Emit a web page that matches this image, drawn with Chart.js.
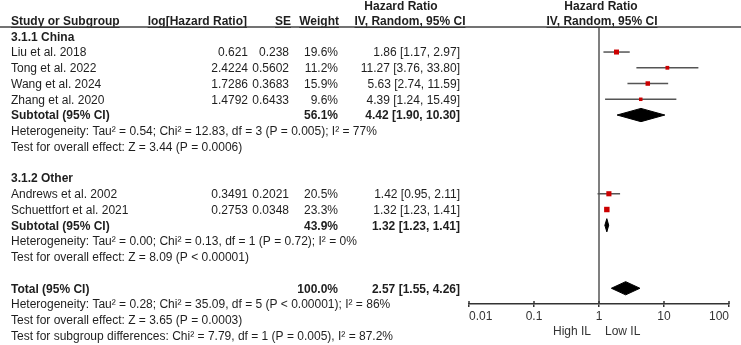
<!DOCTYPE html>
<html lang="en">
  <head>
    <meta charset="UTF-8" />
    <title>Forest plot</title>
    <script src="https://cdn.jsdelivr.net/npm/chart.js"></script>
    <style>
      body { margin: 0; background: #fff; }
      canvas { display: block; }
    </style>
  </head>
  <body>
    <canvas id="forest" width="741" height="345"></canvas>

    <script>
      // data
      const groups = ['3.1.1 China', '3.1.2 Other'];
      const studies = ['Liu et al. 2018', 'Tong et al. 2022', 'Wang et al. 2024', 'Zhang et al. 2020', 'Andrews et al. 2002', 'Schuettfort et al. 2021'];
      const studyGroup = [0, 0, 0, 0, 1, 1];
      const logHR = [0.621, 2.4224, 1.7286, 1.4792, 0.3491, 0.2753];
      const se = [0.238, 0.5602, 0.3683, 0.6433, 0.2021, 0.0348];
      const weights = [19.6, 11.2, 15.9, 9.6, 20.5, 23.3];
      const hr = [1.86, 11.27, 5.63, 4.39, 1.42, 1.32];
      const ciLow = [1.17, 3.76, 2.74, 1.24, 0.95, 1.23];
      const ciHigh = [2.97, 33.80, 11.59, 15.49, 2.11, 1.41];

      const subWeight = [56.1, 43.9];
      const subHR = [4.42, 1.32];
      const subLow = [1.90, 1.23];
      const subHigh = [10.30, 1.41];
      const subHet = [
        'Heterogeneity: Tau² = 0.54; Chi² = 12.83, df = 3 (P = 0.005); I² = 77%',
        'Heterogeneity: Tau² = 0.00; Chi² = 0.13, df = 1 (P = 0.72); I² = 0%'
      ];
      const subEffect = [
        'Test for overall effect: Z = 3.44 (P = 0.0006)',
        'Test for overall effect: Z = 8.09 (P < 0.00001)'
      ];

      const totalHR = [2.57];
      const totalLow = [1.55];
      const totalHigh = [4.26];
      const totalNotes = [
        'Heterogeneity: Tau² = 0.28; Chi² = 35.09, df = 5 (P < 0.00001); I² = 86%',
        'Test for overall effect: Z = 3.65 (P = 0.0003)',
        'Test for subgroup differences: Chi² = 7.79, df = 1 (P = 0.005), I² = 87.2%'
      ];

      const xTicks = [0.01, 0.1, 1, 10, 100];
      const favourLabels = ['High IL', 'Low IL'];

      // rows of the table (index = line number)
      const rows = [];
      let r = 0;
      const studyRow = [];
      const subRow = [];
      groups.forEach(function (g, gi) {
        rows.push({ row: r++, kind: 'group', text: g });
        studies.forEach(function (s, i) {
          if (studyGroup[i] !== gi) return;
          studyRow[i] = r;
          rows.push({ row: r++, kind: 'study', i: i });
        });
        subRow[gi] = r;
        rows.push({ row: r++, kind: 'sub', gi: gi });
        rows.push({ row: r++, kind: 'note', text: subHet[gi] });
        rows.push({ row: r++, kind: 'note', text: subEffect[gi] });
        r++;
      });
      const totalRow = r;
      rows.push({ row: r++, kind: 'total' });
      totalNotes.forEach(function (t) { rows.push({ row: r++, kind: 'note', text: t }); });

      const fmtCI = function (m, lo, hi) {
        return m.toFixed(2) + ' [' + lo.toFixed(2) + ', ' + hi.toFixed(2) + ']';
      };

      const FONT = '"Liberation Sans", Arial, sans-serif';
      const TXT = '#1e1e1e';
      const halfH = 0.42; // diamond half height in rows

      function diamond(m, lo, hi, row) {
        return [
          { x: lo, y: row }, { x: m, y: row - halfH }, { x: hi, y: row },
          { x: m, y: row + halfH }, { x: lo, y: row }
        ];
      }

      const datasets = [];
      // red squares, size from weight
      datasets.push({
        data: hr.map(function (v, i) { return { x: v, y: studyRow[i] }; }),
        pointStyle: 'rect',
        pointRadius: weights.map(function (w) { return Math.sqrt(w) * 1.13 / Math.SQRT2; }),
        backgroundColor: '#cc0000',
        borderWidth: 0,
        order: 0
      });
      // CI lines
      studies.forEach(function (s, i) {
        datasets.push({
          data: [{ x: ciLow[i], y: studyRow[i] }, { x: ciHigh[i], y: studyRow[i] }],
          showLine: true,
          borderColor: '#555',
          borderWidth: 1.5,
          pointRadius: 0,
          order: 2
        });
      });
      // diamonds
      groups.forEach(function (g, gi) {
        datasets.push({
          data: diamond(subHR[gi], subLow[gi], subHigh[gi], subRow[gi]),
          showLine: true, fill: 'shape', tension: 0,
          borderColor: '#000', backgroundColor: '#000', borderWidth: 1,
          pointRadius: 0, order: 1
        });
      });
      datasets.push({
        data: diamond(totalHR[0], totalLow[0], totalHigh[0], totalRow),
        showLine: true, fill: 'shape', tension: 0,
        borderColor: '#000', backgroundColor: '#000', borderWidth: 1,
        pointRadius: 0, order: 1
      });

      const tablePlugin = {
        id: 'table',
        beforeDatasetsDraw: function (chart) {
          const ctx = chart.ctx;
          const xs = chart.scales.x;
          const a = chart.chartArea;
          ctx.save();
          // line of no effect
          ctx.strokeStyle = '#555';
          ctx.lineWidth = 1.5;
          const x1 = xs.getPixelForValue(1);
          ctx.beginPath();
          ctx.moveTo(x1, a.top);
          ctx.lineTo(x1, a.bottom);
          ctx.stroke();
          // tick marks above the axis
          ctx.strokeStyle = '#333';
          xTicks.forEach(function (t) {
            const px = xs.getPixelForValue(t);
            ctx.beginPath();
            ctx.moveTo(px, a.bottom - 3);
            ctx.lineTo(px, a.bottom);
            ctx.stroke();
          });
          ctx.restore();
        },
        afterDraw: function (chart) {
          const ctx = chart.ctx;
          const ys = chart.scales.y;
          const xs = chart.scales.x;
          const a = chart.chartArea;
          const W = chart.width;
          ctx.save();
          ctx.fillStyle = TXT;
          ctx.textBaseline = 'middle';

          const put = function (t, x, y, align, bold) {
            ctx.font = (bold ? 'bold ' : '') + '12px ' + FONT;
            ctx.textAlign = align;
            ctx.fillText(t, x, y);
          };

          // headers
          const hy1 = 7, hy2 = 22;
          put('Hazard Ratio', 401, hy1, 'center', true);
          put('Hazard Ratio', 601, hy1, 'center', true);
          const heads = [
            ['Study or Subgroup', 11, 'left'],
            ['log[Hazard Ratio]', 247, 'right'],
            ['SE', 291, 'right'],
            ['Weight', 339, 'right'],
            ['IV, Random, 95% CI', 410, 'center'],
            ['IV, Random, 95% CI', 602, 'center']
          ];
          ctx.strokeStyle = TXT;
          ctx.lineWidth = 1;
          heads.forEach(function (h) {
            put(h[0], h[1], hy2, h[2], true);
            const w = ctx.measureText(h[0]).width;
            const x0 = h[2] === 'left' ? h[1] : h[2] === 'right' ? h[1] - w : h[1] - w / 2;
            ctx.beginPath();
            ctx.moveTo(x0, hy2 + 5.5);
            ctx.lineTo(x0 + w, hy2 + 5.5);
            ctx.stroke();
          });
          ctx.strokeStyle = '#444';
          ctx.lineWidth = 1.3;
          ctx.beginPath();
          ctx.moveTo(0, a.top);
          ctx.lineTo(W, a.top);
          ctx.stroke();

          rows.forEach(function (rw) {
            const y = ys.getPixelForValue(rw.row) + 1;
            if (rw.kind === 'group') {
              put(rw.text, 11, y, 'left', true);
            } else if (rw.kind === 'study') {
              const i = rw.i;
              put(studies[i], 11, y, 'left', false);
              put(String(logHR[i]), 248, y, 'right', false);
              put(String(se[i]), 289, y, 'right', false);
              put(weights[i].toFixed(1) + '%', 338, y, 'right', false);
              put(fmtCI(hr[i], ciLow[i], ciHigh[i]), 460, y, 'right', false);
            } else if (rw.kind === 'sub') {
              const g = rw.gi;
              put('Subtotal (95% CI)', 11, y, 'left', true);
              put(subWeight[g].toFixed(1) + '%', 338, y, 'right', true);
              put(fmtCI(subHR[g], subLow[g], subHigh[g]), 460, y, 'right', true);
            } else if (rw.kind === 'total') {
              put('Total (95% CI)', 11, y, 'left', true);
              put('100.0%', 338, y, 'right', true);
              put(fmtCI(totalHR[0], totalLow[0], totalHigh[0]), 460, y, 'right', true);
            } else {
              put(rw.text, 11, y, 'left', false);
            }
          });

          // axis tick labels: outer ones aligned to their tick
          ctx.fillStyle = '#333';
          xTicks.forEach(function (t, k) {
            const px = xs.getPixelForValue(t);
            const al = k === 0 ? 'left' : k === xTicks.length - 1 ? 'right' : 'center';
            put(String(t), px, a.bottom + 13, al, false);
          });

          // favours labels
          const x1 = xs.getPixelForValue(1);
          put(favourLabels[0], x1 - 8, 332, 'right', false);
          put(favourLabels[1], x1 + 6, 332, 'left', false);
          ctx.restore();
        }
      };

      new Chart(document.getElementById('forest'), {
        type: 'scatter',
        data: { datasets: datasets },
        options: {
          responsive: false,
          animation: false,
          devicePixelRatio: 1,
          layout: { padding: { left: 469, right: 12, top: 27, bottom: 21 } },
          plugins: { legend: { display: false }, tooltip: { enabled: false } },
          scales: {
            x: {
              type: 'logarithmic',
              min: 0.01,
              max: 100,
              afterBuildTicks: function (s) { s.ticks = xTicks.map(function (v) { return { value: v }; }); },
              afterFit: function (s) { s.height = 20; },
              ticks: { display: false },
              grid: { drawOnChartArea: false, drawTicks: true, tickLength: 3, color: '#333', lineWidth: 1.5 },
              border: { display: true, color: '#333', width: 1.5 }
            },
            y: {
              type: 'linear',
              min: -0.59,
              max: 17,
              reverse: true,
              display: false
            }
          }
        },
        plugins: [tablePlugin]
      });
    </script>
  </body>
</html>
